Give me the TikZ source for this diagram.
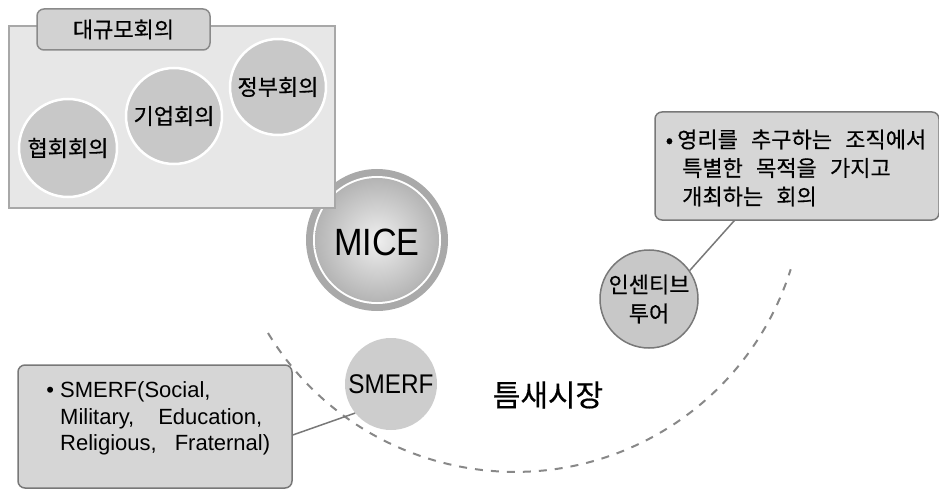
\documentclass[tikz,border=0pt]{standalone}
\usepackage{fontspec}
\setmainfont{Liberation Sans}
\newfontfamily\kr[FakeBold=0.5]{Noto Sans CJK KR}
\newfontfamily\narrowfont[FakeStretch=0.9]{Liberation Sans}
\usetikzlibrary{calc}
\definecolor{boxfill}{HTML}{E7E7E7}
\definecolor{boxline}{HTML}{A8A8A8}
\definecolor{tabfill}{HTML}{D2D2D2}
\definecolor{tabline}{HTML}{8A8A8A}
\definecolor{cfill}{HTML}{C8C8C8}
\definecolor{callfill}{HTML}{D6D6D6}
\definecolor{callline}{HTML}{787878}
\definecolor{dashc}{HTML}{888888}
\definecolor{ringgray}{HTML}{A9A9A9}
\definecolor{miceout}{HTML}{B4B4B4}
\definecolor{micein}{HTML}{EFEFEF}
\definecolor{smerffill}{HTML}{CDCDCD}
\begin{document}
\begin{tikzpicture}[x=1pt,y=-1pt,
  kfont/.style={font=\kr\fontsize{22}{28}\selectfont},
  bigbox/.style={draw=boxline, fill=boxfill, line width=1.5pt, inner sep=0pt},
  tabbox/.style={draw=tabline, fill=tabfill, line width=1.5pt, rounded corners=7pt, inner sep=0pt, kfont},
  groupcirc/.style={circle, fill=cfill, draw=white, line width=2.5pt, inner sep=0pt, kfont},
  callout/.style={draw=callline, fill=callfill, line width=1.5pt, rounded corners=7pt, inner sep=0pt},
  conn/.style={draw=callline, line width=1.5pt},
  niche/.style={draw=dashc, line width=2pt, dash pattern=on 8pt off 8pt}
]
\useasboundingbox (0,0) rectangle (939,489);
% niche market boundary
\draw[niche] (268,333) arc[start angle=211.3, end angle=342.6, radius=289pt];
% MICE
\fill[ringgray] (377,240) circle (71pt);
\fill[white] (377,240) circle (64pt);
\shade[inner color=micein, outer color=miceout] (377,240) circle (62pt);
\node[circle, minimum size=142pt, inner sep=0pt, font=\narrowfont\fontsize{38}{40}\selectfont] (mice) at (377,242) {MICE};
% large conference group
\node[bigbox, minimum width=326pt, minimum height=182pt] (group) at (172,117) {};
\node[tabbox, minimum width=173pt, minimum height=41pt] (tab) at (123.5,29.5) {대규모회의};
\node[groupcirc, minimum size=98pt] (assoc) at (68,148) {협회회의};
\node[groupcirc, minimum size=96pt] (corp) at (174,116) {기업회의};
\node[groupcirc, minimum size=96pt] (gov) at (278,87) {정부회의};
% SMERF
\node[circle, fill=smerffill, minimum size=92pt, inner sep=0pt, font=\narrowfont\fontsize{27}{30}\selectfont] (smerf) at (391,384) {SMERF};
\node[callout, minimum width=274pt, minimum height=123pt] (sbox) at (155,426.5) {};
\node[anchor=west, align=left, inner sep=0pt, font=\fontsize{22}{26.5}\selectfont] (stext) at (60,418.5)
  {\llap{\textbullet\ }SMERF(Social,\\Military,\hspace{24pt}Education,\\Religious,\hspace{18pt}Fraternal)};
\draw[conn] ([yshift=-8.5pt]sbox.east) -- (smerf.219);
% incentive tour
\node[callout, minimum width=284pt, minimum height=108pt] (tbox) at (797,166) {};
\node[anchor=west, align=left, inner sep=0pt, font=\kr\fontsize{22}{28.5}\selectfont] (ttext) at (677,168)
  {\llap{•\hspace{4pt}}영리를\hspace{0.6em}추구하는\hspace{0.6em}조직에서\\\hspace*{5pt}특별한\hspace{0.6em}목적을\hspace{0.6em}가지고\\\hspace*{5pt}개최하는\hspace{0.6em}회의};
\node[circle, draw=callline, fill=cfill, line width=1.5pt, minimum size=98pt, inner sep=0pt, align=center, font=\kr\fontsize{22}{29}\selectfont] (inc) at (649,299) {인센티브\\투어};
\draw[conn] ($(tbox.south west)!0.28!(tbox.south east)$) -- (inc.35);
% niche label
\node[font=\kr\fontsize{30}{32}\selectfont] (nichelabel) at (548,395) {틈새시장};
\end{tikzpicture}
\end{document}
